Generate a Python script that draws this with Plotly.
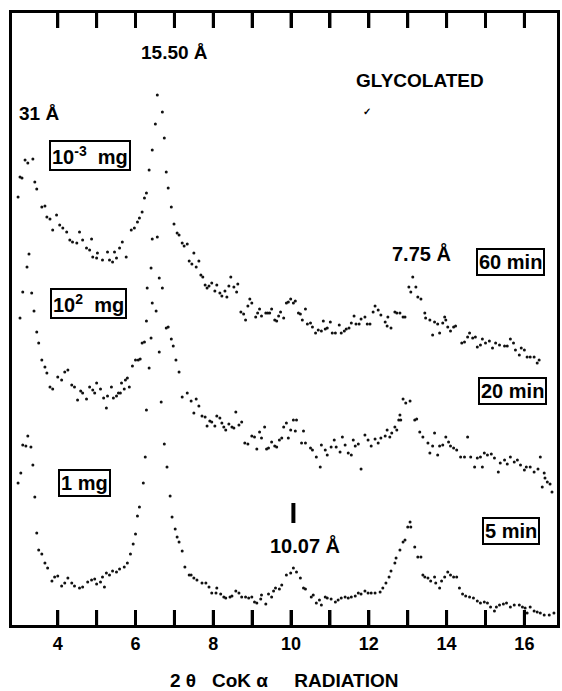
import plotly.graph_objects as go

# ---- data: 2-theta (deg, CoK-alpha) and relative intensity (offset traces) ----
t60 = [2.98, 3.03, 3.08, 3.16, 3.23, 3.36, 3.41, 3.46, 3.59, 3.67, 3.72, 3.80, 3.87, 3.97, 4.05, 4.13,
       4.23, 4.31, 4.38, 4.49, 4.56, 4.64, 4.74, 4.82, 4.87, 4.90, 5.00, 5.02, 5.15, 5.28, 5.33, 5.41,
       5.46, 5.51, 5.59, 5.66, 5.76, 5.89, 5.97, 6.05, 6.10, 6.17, 6.23, 6.28, 6.35, 6.43, 6.51, 6.56,
       6.69, 6.74, 6.79, 6.84, 6.92, 6.99, 7.07, 7.12, 7.20, 7.25, 7.33, 7.38, 7.45, 7.50, 7.56, 7.63,
       7.68, 7.73, 7.79, 7.84, 7.89, 7.96, 8.04, 8.09, 8.17, 8.22, 8.30, 8.35, 8.40, 8.45, 8.53, 8.60,
       8.63, 8.71, 8.78, 8.83, 8.89, 8.94, 8.99, 9.09, 9.14, 9.19, 9.24, 9.35, 9.40, 9.45, 9.50, 9.58,
       9.63, 9.68, 9.73, 9.81, 9.88, 9.93, 9.99, 10.06, 10.11, 10.19, 10.24, 10.29, 10.37, 10.42, 10.50,
       10.55, 10.63, 10.70, 10.78, 10.83, 10.88, 10.93, 11.01, 11.06, 11.14, 11.24, 11.29, 11.37, 11.42,
       11.49, 11.55, 11.62, 11.67, 11.75, 11.80, 11.90, 11.96, 12.03, 12.11, 12.16, 12.24, 12.31, 12.42,
       12.47, 12.49, 12.57, 12.67, 12.72, 12.80, 12.88, 12.93, 13.03, 13.08, 13.13, 13.21, 13.26, 13.34,
       13.44, 13.46, 13.57, 13.64, 13.69, 13.77, 13.82, 13.90, 13.95, 13.98, 14.03, 14.10, 14.18, 14.23,
       14.39, 14.46, 14.54, 14.59, 14.67, 14.74, 14.79, 14.87, 14.92, 15.00, 15.10, 15.18, 15.26, 15.36,
       15.49, 15.56, 15.64, 15.72, 15.77, 15.87, 15.92, 16.00, 16.07, 16.15, 16.25, 16.33, 16.38]
i60 = [428, 448, 447, 465, 462, 466, 443, 436, 418, 419, 408, 406, 395, 410, 400, 397,
       393, 385, 383, 382, 393, 385, 377, 375, 386, 368, 367, 372, 365, 373, 365, 363,
       373, 367, 377, 383, 368, 395, 397, 403, 407, 413, 427, 432, 455, 475, 501, 530,
       513, 487, 453, 437, 418, 401, 392, 390, 382, 379, 381, 364, 361, 372, 358, 364,
       350, 348, 340, 337, 339, 342, 334, 340, 332, 329, 334, 328, 339, 348, 338, 333,
       341, 313, 311, 305, 319, 326, 322, 308, 312, 316, 309, 312, 312, 312, 316, 305,
       304, 309, 313, 307, 322, 323, 326, 322, 324, 312, 311, 305, 316, 301, 302,
       298, 292, 295, 294, 304, 296, 297, 303, 292, 292, 300, 292, 294, 296,
       297, 302, 309, 301, 301, 306, 308, 301, 301, 313, 319, 315, 310, 303,
       299, 308, 297, 313, 312, 312, 308, 308, 338, 333, 348, 338, 328, 326,
       312, 307, 305, 290, 303, 301, 292, 302, 308, 305, 298, 294, 298, 299,
       282, 283, 288, 292, 287, 288, 278, 280, 286, 282, 284, 277, 282, 280,
       279, 279, 286, 282, 275, 270, 277, 275, 268, 268, 268, 262, 265]

t20 = [3.03, 3.10, 3.21, 3.26, 3.33, 3.39, 3.46, 3.51, 3.59, 3.67, 3.72, 3.80, 3.87, 4.00, 4.10, 4.18,
       4.26, 4.36, 4.43, 4.51, 4.59, 4.64, 4.74, 4.82, 4.90, 4.95, 5.00, 5.10, 5.18, 5.25, 5.28, 5.38,
       5.43, 5.51, 5.56, 5.61, 5.64, 5.71, 5.74, 5.79, 5.84, 5.92, 6.00, 6.07, 6.12, 6.17, 6.23, 6.28,
       6.30, 6.40, 6.43, 6.56, 6.61, 6.69, 6.79, 6.84, 6.92, 6.97, 7.04, 7.12, 7.20, 7.33, 7.43, 7.50,
       7.56, 7.63, 7.71, 7.79, 7.84, 7.91, 7.96, 8.04, 8.09, 8.17, 8.22, 8.27, 8.32, 8.40, 8.48, 8.53,
       8.58, 8.66, 8.73, 8.81, 8.89, 8.99, 9.06, 9.12, 9.19, 9.24, 9.32, 9.37, 9.42, 9.50, 9.58, 9.63,
       9.70, 9.76, 9.81, 9.88, 9.93, 9.99, 10.06, 10.11, 10.14, 10.27, 10.32, 10.37, 10.50, 10.55, 10.65,
       10.75, 10.78, 10.88, 10.93, 11.03, 11.11, 11.16, 11.26, 11.32, 11.39, 11.47, 11.55, 11.60, 11.65,
       11.73, 11.80, 11.90, 11.98, 12.06, 12.16, 12.24, 12.31, 12.42, 12.47, 12.54, 12.59, 12.67, 12.72,
       12.77, 12.80, 12.82, 12.88, 12.95, 13.06, 13.18, 13.23, 13.31, 13.39, 13.52, 13.57, 13.64, 13.69,
       13.77, 13.82, 13.90, 13.98, 14.05, 14.10, 14.18, 14.26, 14.36, 14.46, 14.54, 14.62, 14.72, 14.79,
       14.87, 14.92, 14.97, 15.05, 15.15, 15.23, 15.33, 15.38, 15.49, 15.56, 15.64, 15.74, 15.82, 15.90,
       16.00, 16.05, 16.15, 16.25, 16.35, 16.41, 16.46, 16.51, 16.53, 16.59, 16.66, 16.71]
i20 = [307, 333, 358, 371, 332, 314, 293, 282, 265, 258, 252, 238, 236, 248, 245, 253,
       255, 240, 238, 225, 234, 232, 226, 238, 235, 232, 242, 236, 227, 217, 229, 238,
       227, 229, 232, 232, 242, 236, 245, 247, 238, 259, 265, 265, 266, 282, 283, 304,
       337, 357, 386, 388, 347, 337, 297, 298, 286, 279, 265, 253, 228, 232, 224, 212,
       226, 219, 209, 208, 199, 204, 203, 199, 209, 207, 202, 198, 195, 201, 198, 197,
       213, 200, 203, 182, 181, 189, 188, 176, 193, 187, 198, 176, 177, 183, 179, 178,
       185, 187, 198, 202, 187, 195, 205, 194, 205, 182, 194, 182, 177, 175, 168,
       158, 180, 175, 170, 178, 185, 178, 173, 188, 180, 172, 170, 185, 179,
       181, 156, 190, 185, 179, 186, 182, 187, 189, 195, 188, 192, 198, 195,
       205, 210, 205, 226, 222, 224, 205, 206, 193, 188, 182, 172, 179, 192,
       170, 179, 180, 188, 183, 179, 177, 175, 168, 168, 188, 168, 158, 167,
       168, 158, 172, 170, 171, 167, 153, 162, 165, 161, 168, 163, 165, 160,
       155, 158, 158, 153, 156, 168, 138, 152, 147, 143, 141, 133]

t5 = [2.98, 3.05, 3.10, 3.18, 3.23, 3.31, 3.36, 3.41, 3.46, 3.51, 3.59, 3.67, 3.74, 3.85, 3.92, 4.00,
      4.10, 4.18, 4.26, 4.36, 4.43, 4.56, 4.64, 4.77, 4.87, 4.95, 5.00, 5.10, 5.15, 5.20, 5.25, 5.33,
      5.41, 5.51, 5.59, 5.71, 5.79, 5.87, 5.94, 6.00, 6.05, 6.10, 6.20, 6.25, 6.28, 6.35, 6.40, 6.43,
      6.53, 6.61, 6.66, 6.74, 6.81, 6.89, 6.94, 7.02, 7.07, 7.12, 7.20, 7.27, 7.38, 7.43, 7.50, 7.58,
      7.71, 7.81, 7.89, 7.96, 8.07, 8.09, 8.19, 8.27, 8.32, 8.43, 8.48, 8.58, 8.66, 8.73, 8.83, 8.91,
      8.99, 9.06, 9.12, 9.22, 9.24, 9.35, 9.42, 9.50, 9.55, 9.60, 9.70, 9.76, 9.88, 9.99, 10.06, 10.14,
      10.24, 10.32, 10.37, 10.52, 10.57, 10.65, 10.73, 10.78, 10.88, 10.93, 11.03, 11.14, 11.21, 11.29,
      11.39, 11.47, 11.55, 11.65, 11.73, 11.80, 11.90, 11.98, 12.06, 12.16, 12.29, 12.36, 12.44, 12.52,
      12.57, 12.67, 12.70, 12.80, 12.88, 12.93, 13.00, 13.06, 13.08, 13.18, 13.26, 13.34, 13.39, 13.44,
      13.52, 13.59, 13.69, 13.72, 13.82, 13.87, 13.95, 14.03, 14.10, 14.18, 14.26, 14.33, 14.41, 14.49,
      14.59, 14.69, 14.79, 14.87, 14.97, 15.05, 15.13, 15.23, 15.28, 15.36, 15.46, 15.54, 15.64, 15.74,
      15.87, 15.95, 16.02, 16.07, 16.15, 16.25, 16.33, 16.41, 16.51, 16.64, 16.76]
i5 = [142, 152, 180, 179, 189, 178, 160, 128, 92, 75, 71, 62, 57, 44, 48, 49,
      39, 42, 47, 42, 39, 37, 38, 43, 45, 46, 41, 43, 48, 38, 52, 50,
      54, 53, 56, 58, 62, 71, 81, 91, 109, 118, 142, 168, 215, 257, 287, 322,
      314, 273, 223, 181, 158, 129, 108, 96, 88, 83, 74, 58, 50, 50, 47, 45,
      42, 42, 38, 32, 32, 37, 31, 28, 27, 28, 29, 34, 32, 28, 28, 27,
      28, 23, 22, 26, 30, 21, 31, 28, 34, 37, 36, 40, 50, 52, 57, 53,
      47, 37, 36, 28, 30, 22, 25, 20, 28, 27, 26, 23, 25, 27,
      28, 27, 28, 29, 32, 31, 34, 32, 32, 32, 33, 37, 42, 48,
      54, 62, 67, 75, 83, 85, 98, 103, 98, 78, 68, 68, 50, 48,
      47, 44, 48, 42, 37, 44, 48, 53, 50, 48, 48, 37, 31, 29,
      28, 27, 24, 22, 23, 22, 18, 14, 18, 20, 21, 22, 18, 20,
      20, 18, 17, 12, 18, 14, 13, 12, 10, 10, 12]

tick_vals = [4, 5, 6, 7, 8, 9, 10, 11, 12, 13, 14, 15, 16]
tick_text = ["4", "", "6", "", "8", "", "10", "", "12", "", "14", "", "16"]

X_RANGE = [2.8235, 16.839]
Y_RANGE = [0, 612]
TICK_LEN = 15  # in intensity units (1 unit = 1 px here)

FONT = "Liberation Sans, Arial, sans-serif"

fig = go.Figure()
for tx, iy, nm in [(t60, i60, "60 min"), (t20, i20, "20 min"), (t5, i5, "5 min")]:
    fig.add_trace(go.Scatter(x=tx, y=iy, mode="markers", name=nm, showlegend=False,
                             marker=dict(size=3, color="#111111", line=dict(width=0))))

# inward frame ticks (bottom and top) drawn as line segments at the tick values
tk_x, tk_yb, tk_yt = [], [], []
for v in tick_vals:
    tk_x += [v, v, None]
    tk_yb += [Y_RANGE[0], Y_RANGE[0] + TICK_LEN, None]
    tk_yt += [Y_RANGE[1] - TICK_LEN, Y_RANGE[1], None]
for ys in (tk_yb, tk_yt):
    fig.add_trace(go.Scatter(x=tk_x, y=ys, mode="lines", showlegend=False, hoverinfo="skip",
                             line=dict(color="black", width=3), cliponaxis=False))

def txt(x, y, s, size=20, box=False, xanchor="center"):
    fig.add_annotation(x=x, y=y, xref="x", yref="y", text=s, showarrow=False,
                       xanchor=xanchor, yanchor="middle",
                       font=dict(family=FONT, size=size, color="black", weight="bold"),
                       bordercolor="black" if box else "rgba(0,0,0,0)",
                       borderwidth=2 if box else 0, borderpad=1,
                       bgcolor="white" if box else "rgba(0,0,0,0)")

txt(6.99, 573, "15.50 Å", 19)
txt(13.31, 545, "GLYCOLATED", 19)
txt(2.98, 512, "31 Å", 19, xanchor="left")
txt(4.82, 470, "10<sup>-3</sup>  mg", 20, box=True)
txt(4.79, 322, "10<sup>2</sup>  mg", 20, box=True)
txt(4.69, 142, "1 mg", 20, box=True)
txt(13.36, 372, "7.75 Å", 20)
txt(15.64, 363, "60 min", 20, box=True)
txt(15.69, 234, "20 min", 20, box=True)
txt(15.66, 94, "5 min", 20, box=True)
txt(10.37, 80, "10.07 Å", 20)
txt(11.96, 514, "✓", 10)

fig.add_shape(type="line", xref="x", yref="y", x0=10.06, x1=10.06, y0=102, y1=122,
              line=dict(color="black", width=4))

fig.add_annotation(x=0.5, y=-0.0899, xref="paper", yref="paper", showarrow=False,
                   text="2 θ   CoK α     RADIATION", xanchor="center", yanchor="middle",
                   font=dict(family=FONT, size=19, color="black", weight="bold"))

fig.update_xaxes(range=X_RANGE, tickmode="array", tickvals=tick_vals, ticktext=tick_text,
                 ticks="inside", ticklen=15, tickwidth=2.5, tickcolor="black",
                 showline=True, linewidth=3, linecolor="black", mirror="allticks",
                 showgrid=False, zeroline=False,
                 tickfont=dict(family=FONT, size=18, color="black", weight="bold"))
fig.update_yaxes(range=Y_RANGE, showticklabels=False, ticks="",
                 showline=True, linewidth=3, linecolor="black", mirror=True,
                 showgrid=False, zeroline=False)

fig.update_layout(width=562, height=691, margin=dict(l=12, r=2, t=13, b=66),
                  paper_bgcolor="white", plot_bgcolor="white")

fig.write_html("out.html", config={"displayModeBar": False},
               post_script="document.body.style.margin='0';document.body.style.overflow='hidden';")
